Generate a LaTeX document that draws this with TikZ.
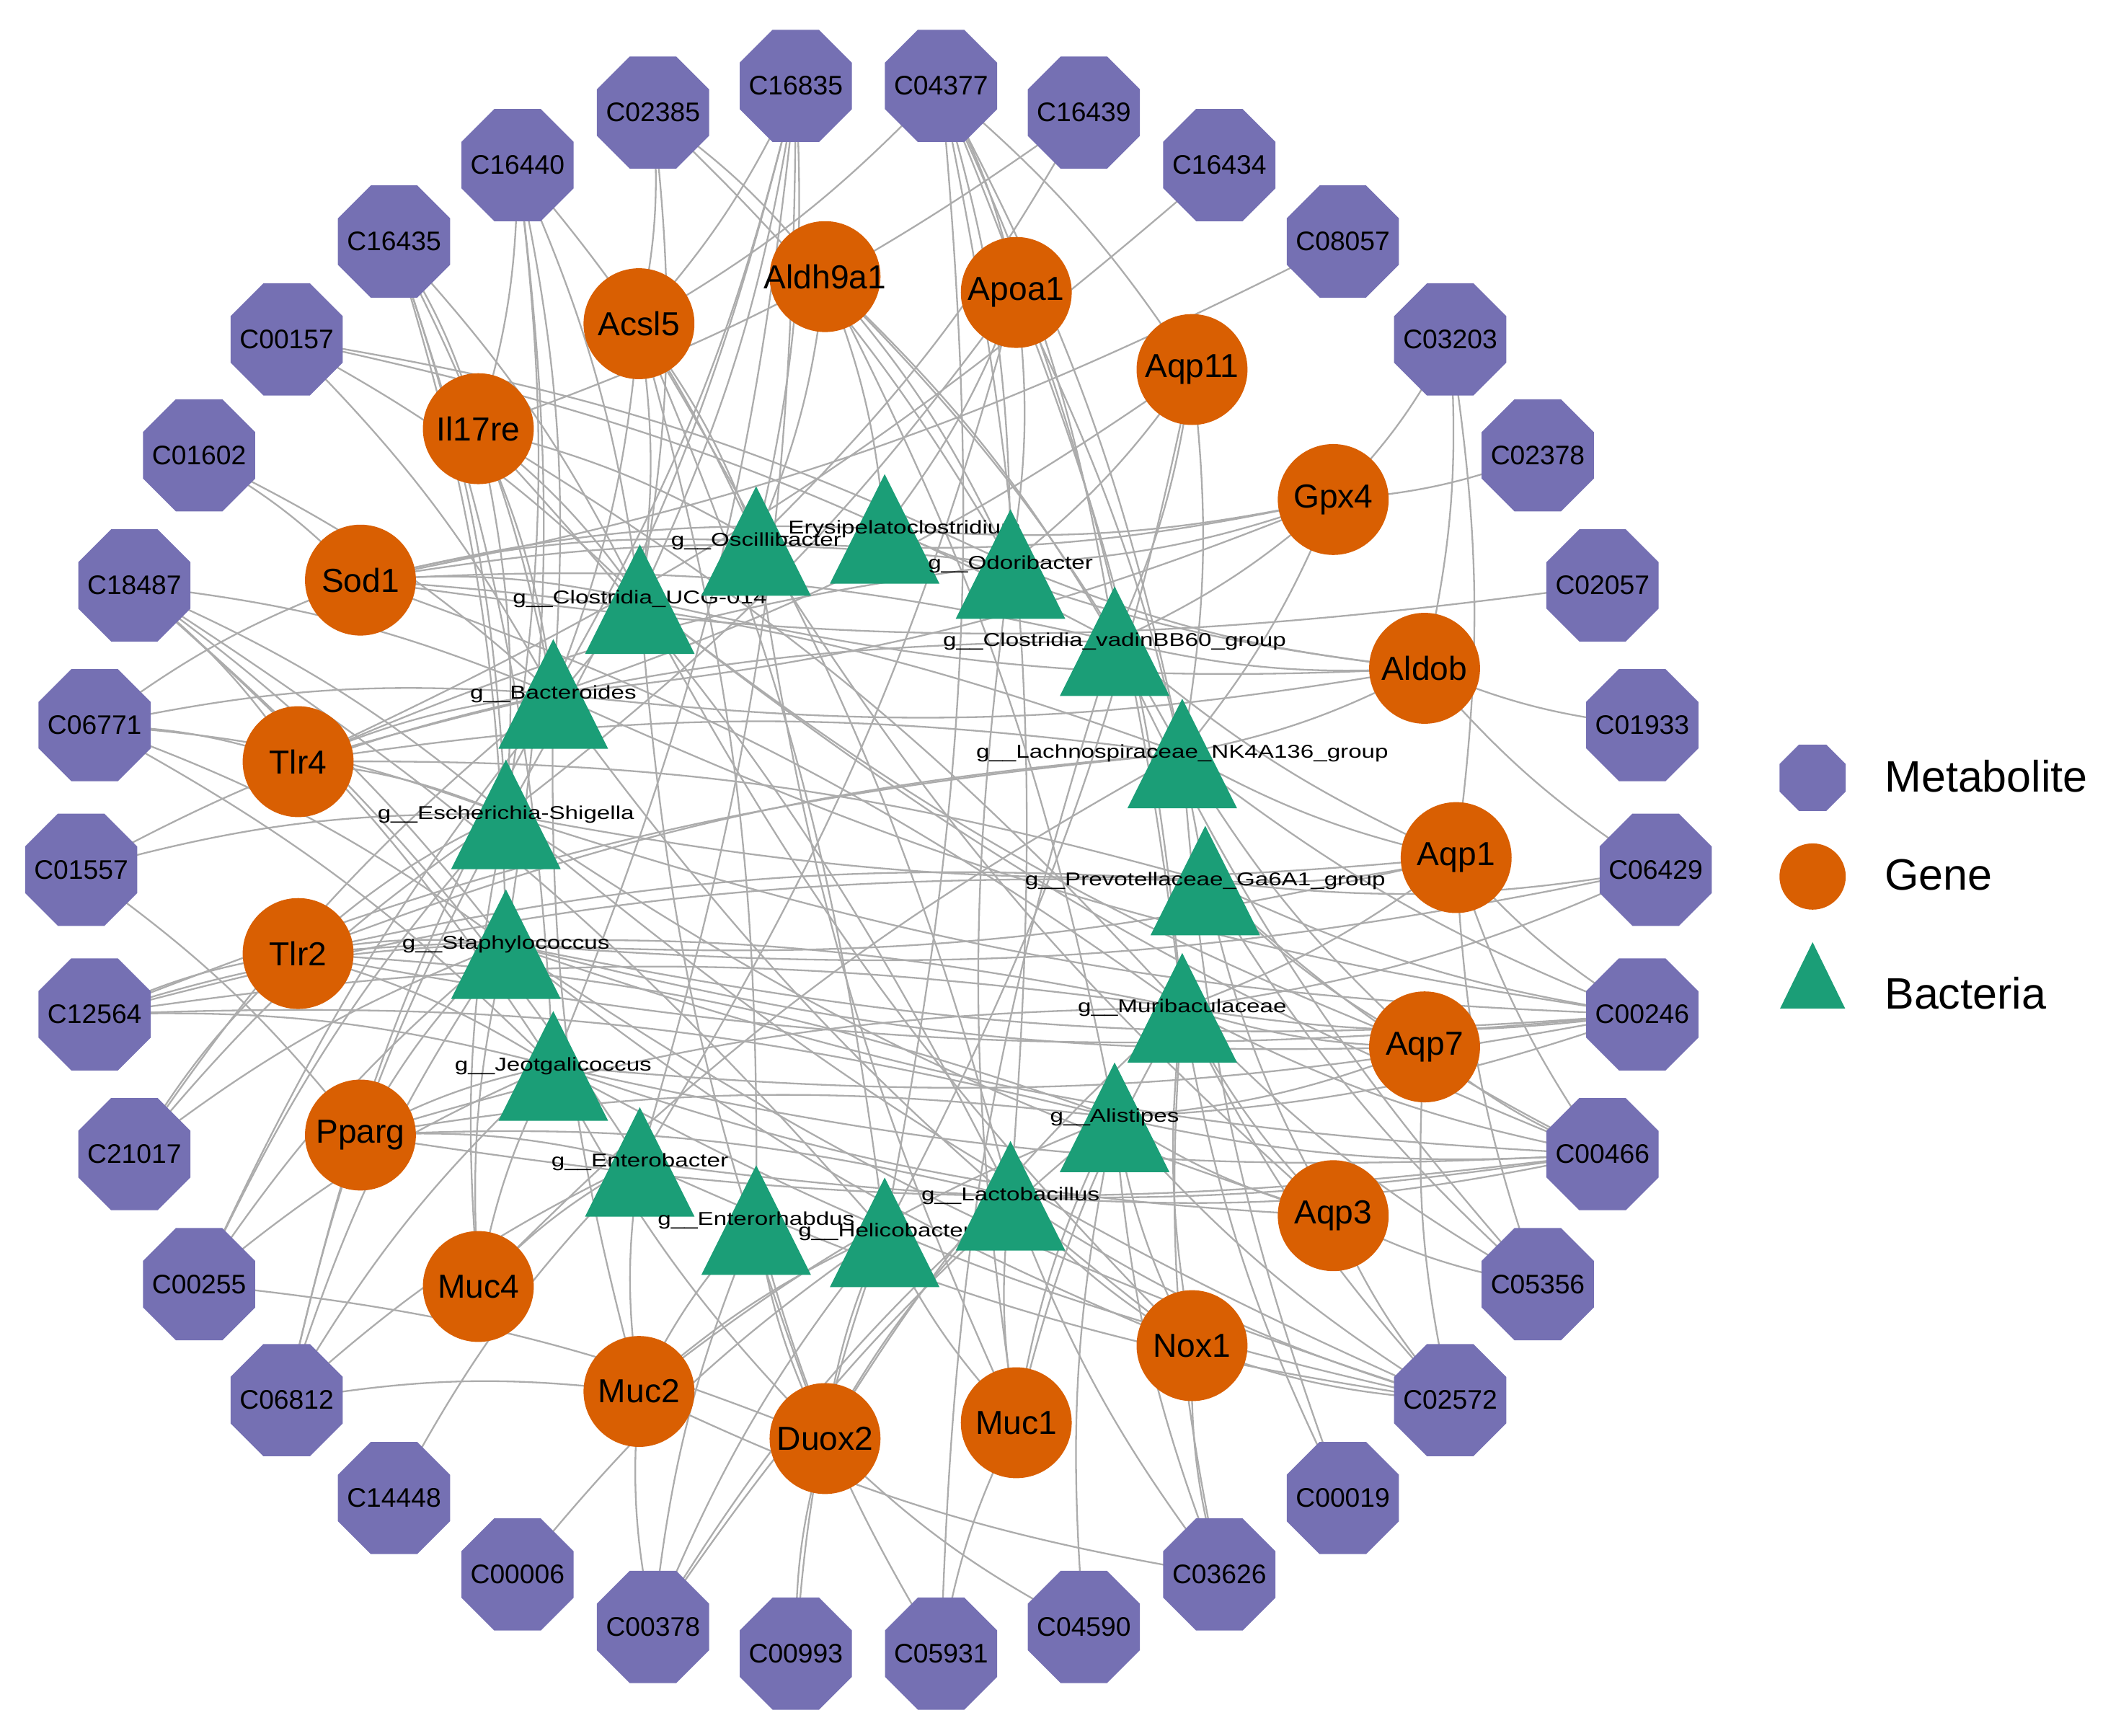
\documentclass[tikz,border=0pt]{standalone}
\usepackage{fontspec}
\setmainfont{Liberation Sans}
\usepackage{graphicx}
\usetikzlibrary{calc,backgrounds,shapes.geometric}
\definecolor{metc}{HTML}{7570B3}
\definecolor{genc}{HTML}{D95F02}
\definecolor{bacc}{HTML}{1B9E77}
\definecolor{edgec}{RGB}{172,172,172}
\begin{document}
\begin{tikzpicture}[x=0.02cm,y=0.02cm,
  metab/.style={regular polygon, regular polygon sides=8, fill=metc, minimum size=1.796cm, inner sep=0pt, font=\fontsize{11.3}{12}\selectfont},
  gene/.style={circle, fill=genc, minimum size=1.64cm, inner sep=0pt, font=\fontsize{14}{16}\selectfont},
  btext/.style={inner sep=0pt, font=\fontsize{7.8}{9}\selectfont},
  edge/.style={draw=edgec, line width=0.7pt},
  legtext/.style={anchor=base west, inner sep=0pt, font=\fontsize{18.5}{22}\selectfont}]
\useasboundingbox (0,0) rectangle (1568,-1283);

% metabolites (outer ring)
\foreach \n [count=\i from 0] in {C06429,C01933,C02057,C02378,C03203,C08057,C16434,C16439,C04377,C16835,C02385,C16440,C16435,C00157,C01602,C18487,C06771,C01557,C12564,C21017,C00255,C06812,C14448,C00006,C00378,C00993,C05931,C04590,C03626,C00019,C02572,C05356,C00466,C00246}
  \node[metab] (\n) at ($(642,-643)+(\i*360/34:582)$) {\makebox[0pt]{\n}};

% genes (inner ring)
\foreach \n [count=\i from 0] in {Aqp1,Aldob,Gpx4,Aqp11,Apoa1,Aldh9a1,Acsl5,Il17re,Sod1,Tlr4,Tlr2,Pparg,Muc4,Muc2,Duox2,Muc1,Nox1,Aqp3,Aqp7}
  \node[gene] (\n) at ($(645.5,-634)+(\i*360/19:431)$) {\makebox[0pt]{\n}};

% bacteria
\foreach \n/\x/\y/\t in {UCG/473/443/g\_\_Clostridia\_UCG-014, Ery/654/391/g\_\_Erysipelatoclostridium, Osc/559/400/g\_\_Oscillibacter, Odo/747/417/g\_\_Odoribacter, Vad/824/474/g\_\_Clostridia\_vadinBB60\_group, Lach/874/557/g\_\_Lachnospiraceae\_NK4A136\_group, Prev/891/651/g\_\_Prevotellaceae\_Ga6A1\_group, Muri/874/745/g\_\_Muribaculaceae, Ali/824/826/g\_\_Alistipes, Bact/409/513/g\_\_Bacteroides, Esch/374/602/g\_\_Escherichia-Shigella, Staph/374/698/g\_\_Staphylococcus, Jeot/409/788/g\_\_Jeotgalicoccus, Entb/473/859/g\_\_Enterobacter, Entrh/559/902/g\_\_Enterorhabdus, Heli/654/911/g\_\_Helicobacter, Lacto/747/884/g\_\_Lactobacillus}{
  \fill[bacc] (\x,{40.5-\y}) -- ({\x+40.5},{-\y-40.5}) -- ({\x-40.5},{-\y-40.5}) -- cycle;
  \node[btext] (\n) at (\x,-\y) {\scalebox{1.29}[1]{\t}};
}

% edges
\begin{pgfonlayer}{background}
\foreach \a/\b in {
 C16835/Acsl5,C16835/Osc,C16835/UCG,C16835/Bact,C16835/Esch,C16835/Entb,C16835/Jeot,
 C04377/Acsl5,C04377/Apoa1,C04377/Aqp11,C04377/Odo,C04377/Vad,C04377/Lach,C04377/Muri,C04377/Lacto,C04377/Heli,
 C16439/Il17re,C16439/Osc,C16434/Tlr4,C08057/Sod1,
 C03203/Gpx4,C03203/Aldob,C03203/Aqp1,C02378/Gpx4,C02057/Sod1,C01933/Aldob,
 C06429/Aldob,C06429/Prev,C06429/Muri,C06429/Staph,
 C00246/Aqp1,C00246/Prev,C00246/Muri,C00246/Staph,C00246/Esch,C00246/Jeot,C00246/Tlr2,C00246/Ali,C00246/Lach,C00246/Bact,
 C00466/Aqp7,C00466/Muri,C00466/Ali,C00466/Jeot,C00466/Staph,C00466/Entb,C00466/Prev,C00466/UCG,C00466/Lacto,C00466/Aqp1,C00466/Pparg,
 C05356/Aqp3,C05356/Aqp1,C05356/Muri,C05356/Prev,C05356/Vad,
 C02572/Nox1,C02572/Aqp3,C02572/Ali,C02572/Muri,C02572/Lacto,C02572/Jeot,C02572/Staph,C02572/Entb,C02572/Aqp7,C02572/Esch,
 C00019/Muri,C00019/Lach,
 C03626/Nox1,C03626/Lacto,C03626/Ali,C03626/Muri,C03626/Muc2,
 C04590/Duox2,C04590/Ali,C05931/Muc1,C05931/Entrh,C05931/Vad,C00993/Duox2,C00993/Heli,
 C00378/Muc2,C00378/Entrh,C00378/Heli,C00378/Lacto,C00378/Ali,
 C00006/Heli,C14448/Entb,
 C06812/Muc2,C06812/Jeot,C06812/Staph,C06812/Esch,C06812/Entb,C06812/Bact,
 C00255/Duox2,C00255/Jeot,C00255/Staph,C00255/Esch,C00255/UCG,
 C21017/Tlr2,C21017/Staph,C21017/Esch,C21017/Bact,
 C12564/Tlr2,C12564/Staph,C12564/Jeot,C12564/Muri,C12564/Ali,C12564/Prev,C12564/Lach,
 C01557/Pparg,C01557/Bact,C01557/Esch,
 C06771/Sod1,C06771/Tlr4,C06771/Esch,C06771/Staph,C06771/Jeot,C06771/Bact,
 C18487/Tlr4,C18487/Esch,C18487/Staph,C18487/Jeot,C18487/Entb,C18487/Bact,C18487/Heli,
 C01602/Sod1,C01602/Bact,
 C00157/UCG,C00157/Bact,C00157/Odo,C00157/Vad,
 C16435/Il17re,C16435/Bact,C16435/Esch,C16435/UCG,C16435/Staph,C16435/Jeot,
 C16440/Il17re,C16440/UCG,C16440/Bact,C16440/Esch,C16440/Staph,C16440/Osc,
 C02385/Acsl5,C02385/Aldh9a1,C02385/UCG,C02385/Odo,
 Sod1/Odo,Sod1/Vad,Sod1/Lach,Sod1/Osc,Sod1/Ery,Sod1/UCG,Sod1/Muri,
 Tlr4/Lach,Tlr4/Bact,Tlr4/Esch,Tlr4/Vad,Tlr4/Prev,Tlr4/Odo,
 Tlr2/Staph,Tlr2/Muri,Tlr2/Prev,Tlr2/Ali,Tlr2/Esch,Tlr2/Jeot,Tlr2/Lach,
 Pparg/Jeot,Pparg/Muri,Pparg/Ali,Pparg/Staph,Pparg/Lacto,Pparg/Entb,
 Muc4/Entb,Muc4/Jeot,Muc4/Staph,Muc4/Esch,Muc4/Lach,
 Muc2/Entrh,Muc2/Entb,Muc2/Heli,Muc2/Ali,Muc2/Bact,
 Duox2/Entrh,Duox2/Heli,Duox2/Lacto,Duox2/Jeot,Duox2/Muri,Duox2/UCG,
 Muc1/Lacto,Muc1/Heli,Muc1/Muri,Muc1/Ali,Muc1/Osc,Muc1/Odo,
 Nox1/Ali,Nox1/Muri,Nox1/Staph,Nox1/Lacto,Nox1/UCG,Nox1/Bact,
 Aqp3/Ali,Aqp3/Muri,Aqp3/Prev,Aqp3/Jeot,Aqp3/Esch,Aqp3/Osc,
 Aqp7/Muri,Aqp7/Prev,Aqp7/Staph,Aqp7/Ali,Aqp7/Lach,Aqp7/UCG,
 Aqp1/Prev,Aqp1/Lach,Aqp1/Muri,Aqp1/Staph,Aqp1/Vad,Aqp1/Esch,
 Aldob/Vad,Aldob/Lach,Aldob/Odo,Aldob/UCG,Aldob/Bact,Aldob/Ery,
 Gpx4/Odo,Gpx4/Ery,Gpx4/Osc,Gpx4/Vad,Gpx4/Bact,Gpx4/Lach,
 Aqp11/Odo,Aqp11/Vad,Aqp11/Lach,Aqp11/Bact,Aqp11/Heli,
 Apoa1/Odo,Apoa1/Ery,Apoa1/Prev,Apoa1/Muri,Apoa1/Esch,Apoa1/Entb,
 Aldh9a1/Ery,Aldh9a1/Osc,Aldh9a1/Odo,Aldh9a1/Vad,Aldh9a1/Ali,Aldh9a1/Lach,
 Acsl5/Osc,Acsl5/UCG,Acsl5/Bact,Acsl5/Heli,Acsl5/Entrh,Acsl5/Lacto,
 Il17re/UCG,Il17re/Bact,Il17re/Osc,Il17re/Esch,Il17re/Muri,Il17re/Lacto}
  \draw[edge] (\a.center) to[bend left=8] (\b.center);
\end{pgfonlayer}

% legend
\node[regular polygon, regular polygon sides=8, fill=metc, minimum size=1.06cm, inner sep=0pt] (legM) at (1340,-575) {};
\node[circle, fill=genc, minimum size=0.98cm, inner sep=0pt] (legG) at (1340,-648) {};
\fill[bacc] (1340,-696.5) -- (1364,-745.5) -- (1316,-745.5) -- cycle;
\coordinate (legB) at (1340,-721);
\node[legtext] (legMt) at (1393,-585.4) {Metabolite};
\node[legtext] (legGt) at (1393,-658) {Gene};
\node[legtext] (legBt) at (1393,-746) {Bacteria};
\end{tikzpicture}
\end{document}
